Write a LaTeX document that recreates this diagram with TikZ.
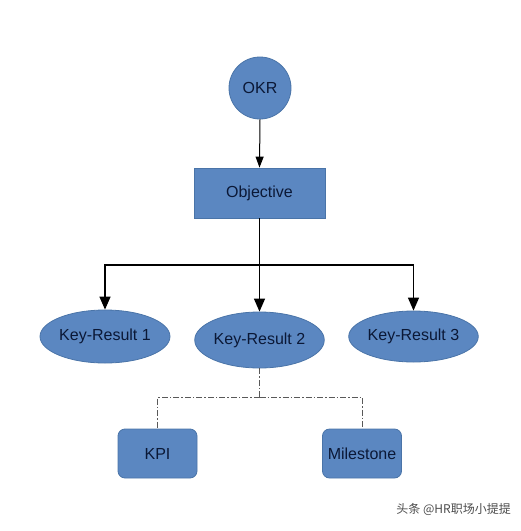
\documentclass[tikz,border=0pt]{standalone}
\usepackage{fontspec}
\setmainfont{Liberation Sans}
\newfontfamily\cjk{Noto Sans CJK SC}
\usetikzlibrary{shapes.geometric,arrows.meta}
\definecolor{nodefill}{HTML}{5B87C1}
\definecolor{nodeedge}{HTML}{4A74A8}
\definecolor{nodetext}{HTML}{0B1836}
\tikzset{
  x=1pt,y=-1pt,
  base/.style={fill=nodefill,draw=nodeedge,line width=0.8pt,text=nodetext,font=\fontsize{16}{18}\selectfont,inner sep=0pt},
  circ/.style={base,circle,minimum size=62pt},
  rectbox/.style={base,rectangle,minimum width=131pt,minimum height=50pt},
  ell/.style={base,ellipse,minimum width=130pt},
  rbox/.style={base,rectangle,rounded corners=7pt,minimum width=79pt,minimum height=49pt},
  arr/.style={draw=black,line width=1.3pt,-{Triangle[length=13pt,width=11pt]}},
  arrs/.style={draw=black,line width=1pt,-{Triangle[length=11pt,width=8pt]}},
  dd/.style={draw=gray!70!black,line width=1pt,dash pattern=on 6pt off 2pt on 1.5pt off 2pt}
}
\begin{document}
\begin{tikzpicture}
\useasboundingbox (0,0) rectangle (521,531);
\node[circ] (okr) at (260,88) {OKR};
\node[rectbox] (obj) at (259.5,193) {Objective};
\node[ell,minimum height=53pt] (kr1) at (105,336.5) {Key-Result 1};
\node[ell,minimum width=129pt,minimum height=56pt] (kr2) at (259.5,340) {Key-Result 2};
\node[ell,minimum width=129pt,minimum height=51pt] (kr3) at (413.5,336.5) {Key-Result 3};
\node[rbox] (kpi) at (157.5,453.5) {KPI};
\node[rbox] (ms) at (362,453.5) {Milestone};
\coordinate (hb) at (259.5,265);
\coordinate (hd) at (259.5,397);
\draw[arrs] (okr.south) -- (obj.north);
\draw[line width=1.3pt] (obj.south) -- (hb);
\draw[arr] (hb) -- (kr2.north);
\draw[arr] (hb) -| (kr1.north);
\draw[arr] (hb) -| (kr3.north);
\draw[dd] (kr2.south) -- (hd);
\draw[dd] (hd) -| (kpi.north);
\draw[dd] (hd) -| (ms.north);
\node[anchor=east,text=gray!60!black,font=\cjk\fontsize{12}{14}\selectfont,inner sep=0pt] (wm) at (511,509) {头条 @HR职场小提提};
\end{tikzpicture}
\end{document}
